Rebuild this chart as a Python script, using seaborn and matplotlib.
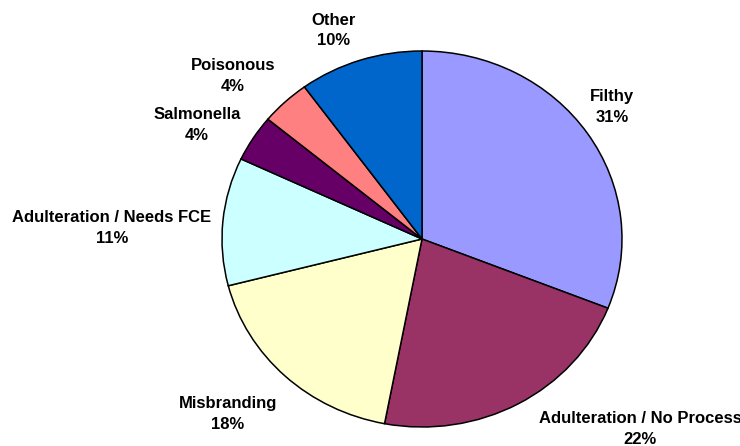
import matplotlib
matplotlib.use('Agg')
import matplotlib.pyplot as plt
import seaborn as sns

categories = ['Filthy', 'Adulteration / No Process', 'Misbranding',
              'Adulteration / Needs FCE', 'Salmonella', 'Poisonous', 'Other']
shares = [31, 22, 18, 11, 4, 4, 10]
colors = ['#9999FF', '#993366', '#FFFFCC', '#CCFFFF', '#660066', '#FF8080', '#0066CC']

# label spots (pie units), Excel puts them by hand
label_spots = [(0.95, 0.702), (1.09, -1.011), (-0.97, -0.93),
               (-1.55, 0.059), (-1.125, 0.606), (-0.945, 0.867), (-0.44, 1.109)]


def plot_pie():
    fig = plt.figure(figsize=(7.4, 4.46), dpi=100)
    ax = fig.add_axes([0, 0, 1, 1])
    labels = [f'{c}\n{v}%' for c, v in zip(categories, shares)]
    wedges, texts = ax.pie(shares, labels=labels, colors=sns.color_palette(colors),
                           startangle=90, counterclock=False,
                           wedgeprops={'edgecolor': 'black', 'linewidth': 1.1},
                           textprops={'fontsize': 12, 'fontweight': 'bold',
                                      'color': 'black', 'linespacing': 1.45})
    for t, (x, y) in zip(texts, label_spots):
        t.set_position((x, y))
        t.set_ha('center')
        t.set_va('center')
        t.set_multialignment('center')
    ax.set_aspect('auto')
    ax.set_xlim(-422 / 200, (740 - 422) / 200)
    ax.set_ylim(-207 / 188, 239 / 188)
    ax.axis('off')
    plt.savefig('out.png', dpi=100)


if __name__ == '__main__':
    sns.set_theme(style="white")
    plt.rcParams['font.family'] = ['Liberation Sans', 'DejaVu Sans']
    plot_pie()
